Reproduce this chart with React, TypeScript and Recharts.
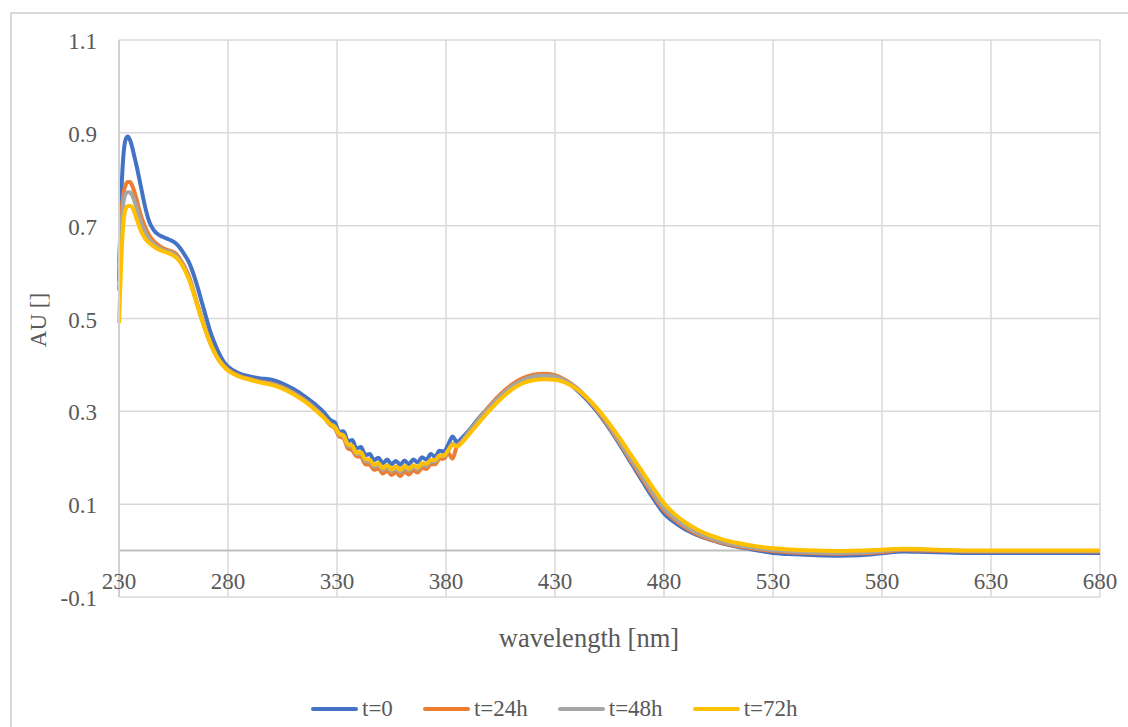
import React from 'react';
import { LineChart, Line, XAxis, YAxis, CartesianGrid, ReferenceLine } from 'recharts';

const wavelengths = [
  230, 231, 232, 233, 234, 235, 236, 237, 238, 240,
  242, 244, 246, 248, 250, 252, 254, 256, 258, 260,
  262, 264, 266, 268, 270, 272, 274, 276, 278, 280,
  285, 290, 295, 300, 305, 310, 315, 320, 324, 327,
  329, 331, 333, 335, 337, 339, 341, 343, 345, 347,
  349, 351, 353, 355, 357, 359, 361, 363, 365, 367,
  369, 371, 373, 375, 377, 379, 381, 383, 385, 388,
  390, 395, 400, 405, 410, 415, 420, 425, 430, 435,
  440, 445, 450, 455, 460, 465, 470, 475, 480, 485,
  490, 495, 500, 505, 510, 520, 530, 540, 550, 560,
  570, 580, 590, 600, 610, 620, 630, 640, 650, 660,
  670, 680,
];

const t0 = [
  0.58, 0.76, 0.85, 0.885, 0.892, 0.885, 0.87, 0.85, 0.83, 0.785,
  0.74, 0.707, 0.69, 0.681, 0.676, 0.672, 0.668, 0.662, 0.652, 0.638,
  0.622, 0.598, 0.568, 0.535, 0.502, 0.47, 0.445, 0.424, 0.407, 0.396,
  0.382, 0.375, 0.371, 0.368, 0.36, 0.348, 0.333, 0.315, 0.298, 0.281,
  0.276, 0.256, 0.257, 0.236, 0.238, 0.22, 0.223, 0.206, 0.208, 0.195,
  0.2, 0.188, 0.196, 0.186, 0.193, 0.185, 0.194, 0.186, 0.196, 0.19,
  0.201, 0.196, 0.208, 0.202, 0.215, 0.213, 0.228, 0.246, 0.234, 0.246,
  0.256, 0.285, 0.31, 0.333, 0.352, 0.366, 0.374, 0.377, 0.374, 0.364,
  0.346, 0.323, 0.295, 0.262, 0.226, 0.188, 0.15, 0.113, 0.08, 0.06,
  0.045, 0.034, 0.025, 0.018, 0.012, 0.003, -0.005, -0.008, -0.01, -0.011,
  -0.01, -0.006, -0.002, -0.003, -0.004, -0.005, -0.005, -0.005, -0.005, -0.005,
  -0.005, -0.005,
];

const t24 = [
  0.62, 0.72, 0.768, 0.787, 0.794, 0.794, 0.787, 0.774, 0.758, 0.722,
  0.697, 0.678, 0.666, 0.658, 0.652, 0.648, 0.645, 0.64, 0.628, 0.612,
  0.592, 0.562, 0.53, 0.5, 0.472, 0.447, 0.427, 0.41, 0.399, 0.39,
  0.377, 0.37, 0.364, 0.36, 0.352, 0.34, 0.325, 0.306, 0.288, 0.27,
  0.264, 0.246, 0.242, 0.22, 0.216, 0.203, 0.202, 0.186, 0.185, 0.174,
  0.177, 0.166, 0.172, 0.163, 0.169, 0.16, 0.17, 0.164, 0.173, 0.168,
  0.178, 0.176, 0.186, 0.186, 0.198, 0.198, 0.21, 0.198, 0.225, 0.238,
  0.252, 0.283, 0.312, 0.337, 0.357, 0.371, 0.379, 0.381, 0.378, 0.367,
  0.35, 0.326, 0.298, 0.265, 0.229, 0.192, 0.155, 0.119, 0.087, 0.066,
  0.049, 0.036, 0.026, 0.019, 0.013, 0.005, -0.001, -0.004, -0.006, -0.007,
  -0.006, -0.003, 0.001, 0.0, -0.001, -0.002, -0.002, -0.002, -0.002, -0.002,
  -0.002, -0.002,
];

const t48 = [
  0.56, 0.69, 0.748, 0.768, 0.772, 0.772, 0.766, 0.754, 0.74, 0.708,
  0.686, 0.67, 0.66, 0.653, 0.648, 0.645, 0.642, 0.636, 0.625, 0.609,
  0.589, 0.56, 0.528, 0.498, 0.47, 0.445, 0.425, 0.409, 0.398, 0.389,
  0.376, 0.369, 0.363, 0.359, 0.351, 0.339, 0.324, 0.305, 0.287, 0.272,
  0.267, 0.25, 0.246, 0.226, 0.222, 0.208, 0.208, 0.193, 0.192, 0.181,
  0.184, 0.174, 0.18, 0.171, 0.177, 0.169, 0.178, 0.172, 0.18, 0.175,
  0.185, 0.183, 0.192, 0.192, 0.203, 0.203, 0.215, 0.23, 0.226, 0.24,
  0.253, 0.282, 0.309, 0.333, 0.353, 0.367, 0.375, 0.377, 0.375, 0.365,
  0.35, 0.327, 0.3, 0.268, 0.232, 0.196, 0.16, 0.124, 0.092, 0.07,
  0.053, 0.039, 0.029, 0.021, 0.015, 0.007, 0.001, -0.002, -0.004, -0.005,
  -0.004, -0.001, 0.003, 0.002, 0.0, -0.001, -0.001, -0.001, -0.001, -0.001,
  -0.001, -0.001,
];

const t72 = [
  0.49, 0.62, 0.705, 0.735, 0.742, 0.743, 0.74, 0.73, 0.716, 0.689,
  0.672, 0.662, 0.655, 0.649, 0.645, 0.642, 0.638, 0.632, 0.622, 0.606,
  0.585, 0.558, 0.527, 0.497, 0.47, 0.445, 0.425, 0.409, 0.397, 0.388,
  0.375, 0.368, 0.362, 0.357, 0.349, 0.337, 0.322, 0.303, 0.286, 0.272,
  0.266, 0.252, 0.248, 0.229, 0.226, 0.211, 0.212, 0.197, 0.196, 0.185,
  0.188, 0.178, 0.184, 0.175, 0.181, 0.174, 0.182, 0.176, 0.184, 0.179,
  0.188, 0.187, 0.195, 0.195, 0.205, 0.205, 0.216, 0.228, 0.224, 0.236,
  0.247, 0.275, 0.302, 0.326, 0.346, 0.36, 0.367, 0.369, 0.368, 0.361,
  0.348, 0.328, 0.303, 0.273, 0.24, 0.205, 0.17, 0.135, 0.102, 0.078,
  0.06, 0.046, 0.035, 0.027, 0.02, 0.011, 0.005, 0.002, 0.0, -0.001,
  0.0, 0.002, 0.004, 0.003, 0.001, 0.0, 0.0, 0.0, 0.0, 0.0,
  0.0, 0.0,
];

const xTicks = [230, 280, 330, 380, 430, 480, 530, 580, 630, 680];
const yTicks = [-0.1, 0.1, 0.3, 0.5, 0.7, 0.9, 1.1];

const series = [
  { key: 't0', name: 't=0', color: '#4472C4' },
  { key: 't24', name: 't=24h', color: '#ED7D31' },
  { key: 't48', name: 't=48h', color: '#A5A5A5' },
  { key: 't72', name: 't=72h', color: '#FFC000' },
];

const data = wavelengths.map((wl, i) => ({ wl, t0: t0[i], t24: t24[i], t48: t48[i], t72: t72[i] }));

const FONT = '"Liberation Serif", "Times New Roman", serif';
const TEXT = '#595959';

const XTick = ({ x, y, payload }: any) => (
  <text x={x} y={y} dy={-8} textAnchor="middle" fill={TEXT} fontSize={23} fontFamily={FONT}>
    {payload.value}
  </text>
);

const YTick = ({ x, y, payload }: any) => (
  <text x={x} y={y} dy={9} textAnchor="end" fill={TEXT} fontSize={23} fontFamily={FONT}>
    {payload.value}
  </text>
);

export default function App() {
  return (
    <div style={{ position: 'fixed', left: 0, top: 0, width: 1128, height: 727, overflow: 'hidden', background: '#fff' }}>
      <div style={{ position: 'absolute', left: 10, top: 12, width: 1200, height: 800, border: '2px solid #d9d9d9' }} />
      <div style={{ position: 'absolute', left: 0, top: 0 }}>
        <LineChart width={1128} height={727} data={data} margin={{ top: 40, right: 28, bottom: 100, left: 59 }}>
          <CartesianGrid stroke="#d9d9d9" strokeWidth={1.5} horizontalValues={yTicks} verticalValues={xTicks} />
          <XAxis
            dataKey="wl"
            type="number"
            domain={[230, 680]}
            ticks={xTicks}
            axisLine={false}
            tickLine={false}
            tickSize={0}
            tickMargin={0}
            height={30}
            tick={<XTick />}
            label={() => (
              <text x={589} y={647} textAnchor="middle" fill={TEXT} fontSize={26.5} fontFamily={FONT}>
                wavelength [nm]
              </text>
            )}
          />
          <YAxis
            type="number"
            domain={[-0.1, 1.1]}
            ticks={yTicks}
            width={60}
            axisLine={{ stroke: '#d0d0d0', strokeWidth: 2 }}
            tickLine={false}
            tickSize={0}
            tickMargin={22}
            tick={<YTick />}
            label={() => (
              <text
                x={38}
                y={320}
                transform="rotate(-90, 38, 320)"
                dy={8}
                textAnchor="middle"
                fill={TEXT}
                fontSize={23}
                fontFamily={FONT}
              >
                AU []
              </text>
            )}
          />
          <ReferenceLine y={0} stroke="#bfbfbf" strokeWidth={2} />
          {series.map((s) => (
            <Line
              key={s.key}
              type="monotone"
              dataKey={s.key}
              name={s.name}
              stroke={s.color}
              strokeWidth={4}
              dot={false}
              isAnimationActive={false}
            />
          ))}
        </LineChart>
      </div>
      <div
        style={{
          position: 'absolute',
          left: 311,
          top: 696,
          display: 'flex',
          alignItems: 'center',
          gap: 30,
          fontFamily: FONT,
          fontSize: 23,
          color: TEXT,
        }}
      >
        {series.map((s) => (
          <div key={s.key} style={{ display: 'flex', alignItems: 'center' }}>
            <span style={{ display: 'inline-block', width: 47, height: 4, borderRadius: 2, background: s.color, marginRight: 4 }} />
            <span>{s.name}</span>
          </div>
        ))}
      </div>
    </div>
  );
}
